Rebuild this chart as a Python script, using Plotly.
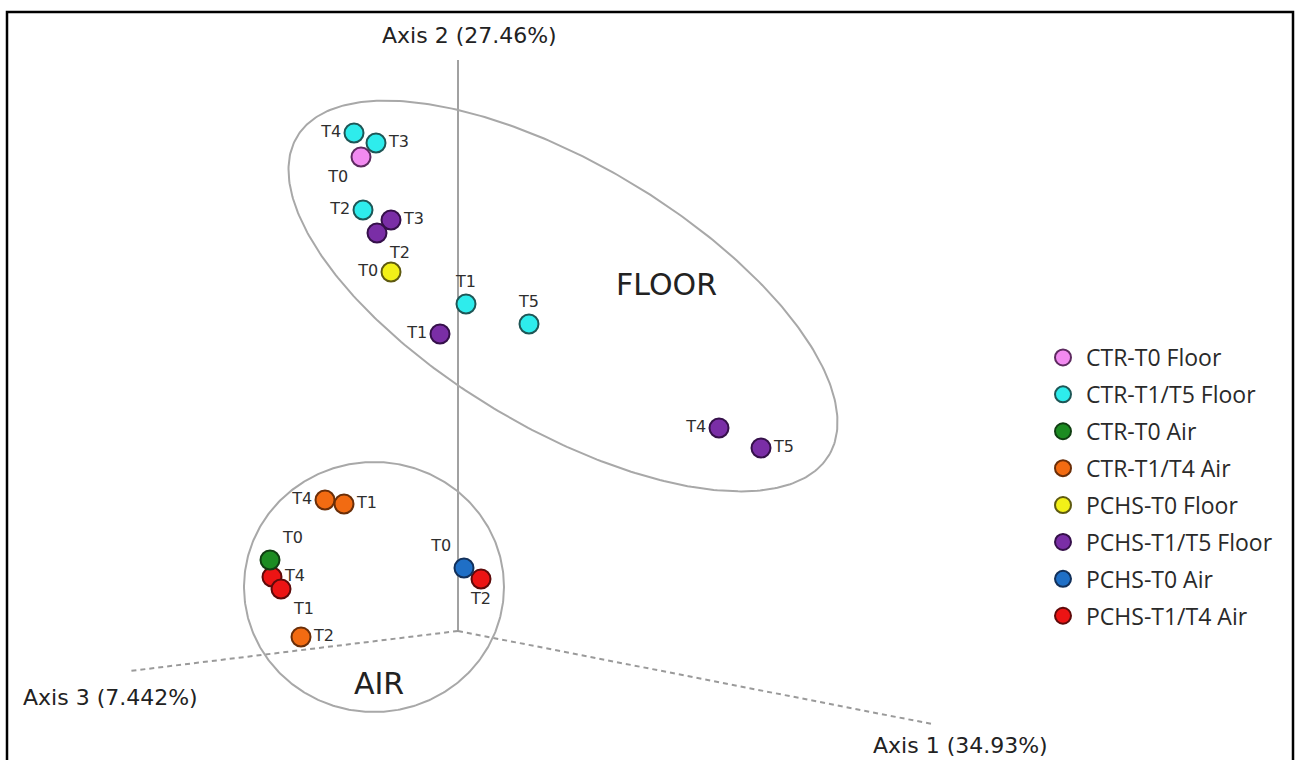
import numpy as np
import plotly.graph_objects as go

# Sample scores projected onto the drawing plane (Axis 1/2/3 ordination view)
groups = ["CTR-T0 Floor", "CTR-T1/T5 Floor", "CTR-T0 Air", "CTR-T1/T4 Air",
          "PCHS-T0 Floor", "PCHS-T1/T5 Floor", "PCHS-T0 Air", "PCHS-T1/T4 Air"]
fill_colors = ["#F28AF0", "#2EECEC", "#1C8C22", "#F26B12",
               "#F2F018", "#7A2EA6", "#1F6FC6", "#EC1414"]
edge_colors = ["#5E2A60", "#1E5656", "#103E12", "#6A2E08",
               "#5E5A10", "#35104A", "#12305A", "#5E0A0A"]

ctr_t0_floor_x = [361]
ctr_t0_floor_y = [157]
ctr_t0_floor_lab = ["T0"]

ctr_t15_floor_x = [354, 376, 363, 466, 529]
ctr_t15_floor_y = [133, 143, 210, 304, 324]
ctr_t15_floor_lab = ["T4", "T3", "T2", "T1", "T5"]

ctr_t0_air_x = [270]
ctr_t0_air_y = [560]
ctr_t0_air_lab = ["T0"]

ctr_t14_air_x = [325, 344, 301]
ctr_t14_air_y = [500, 504, 637]
ctr_t14_air_lab = ["T4", "T1", "T2"]

pchs_t0_floor_x = [391]
pchs_t0_floor_y = [272]
pchs_t0_floor_lab = ["T0"]

pchs_t15_floor_x = [391, 377, 440, 719, 761]
pchs_t15_floor_y = [220, 233, 334, 428, 448]
pchs_t15_floor_lab = ["T3", "T2", "T1", "T4", "T5"]

pchs_t0_air_x = [464]
pchs_t0_air_y = [568]
pchs_t0_air_lab = ["T0"]

pchs_t14_air_x = [272, 281, 481]
pchs_t14_air_y = [577, 589, 579]
pchs_t14_air_lab = ["T4", "T1", "T2"]

series = [
    (ctr_t0_floor_x, ctr_t0_floor_y, ctr_t0_floor_lab, ["bottom left"]),
    (ctr_t15_floor_x, ctr_t15_floor_y, ctr_t15_floor_lab,
     ["middle left", "middle right", "middle left", "top center", "top center"]),
    (ctr_t0_air_x, ctr_t0_air_y, ctr_t0_air_lab, ["top right"]),
    (ctr_t14_air_x, ctr_t14_air_y, ctr_t14_air_lab,
     ["middle left", "middle right", "middle right"]),
    (pchs_t0_floor_x, pchs_t0_floor_y, pchs_t0_floor_lab, ["middle left"]),
    (pchs_t15_floor_x, pchs_t15_floor_y, pchs_t15_floor_lab,
     ["middle right", "bottom right", "middle left", "middle left", "middle right"]),
    (pchs_t0_air_x, pchs_t0_air_y, pchs_t0_air_lab, ["top left"]),
    (pchs_t14_air_x, pchs_t14_air_y, pchs_t14_air_lab,
     ["middle right", "bottom right", "bottom center"]),
]

# Draw order (later on top); legend order kept by legendrank
draw_order = [1, 0, 5, 4, 7, 2, 3, 6]

# Ordination axes: origin and axis end points in the plane
origin = (458, 631)
axis2_top = (458, 60)
axis3_end = (130, 671)
axis1_end = (932, 724)

# Group outlines: FLOOR ellipse and AIR circle
floor_center, floor_a, floor_b, floor_angle = (563, 296), 310, 132, 30.9
air_center, air_rx, air_ry = (374, 587), 130, 125

text_font = "DejaVu Sans"
fig = go.Figure()

# axes
fig.add_trace(go.Scatter(x=[origin[0], axis2_top[0]], y=[origin[1], axis2_top[1]],
                         mode="lines", line=dict(color="#8a8a8a", width=1.6),
                         showlegend=False, hoverinfo="skip"))
for end in (axis3_end, axis1_end):
    fig.add_trace(go.Scatter(x=[origin[0], end[0]], y=[origin[1], end[1]],
                             mode="lines",
                             line=dict(color="#9a9a9a", width=2, dash="5px,4px"),
                             showlegend=False, hoverinfo="skip"))

# group outlines
t = np.linspace(0, 2 * np.pi, 400)
th = np.deg2rad(floor_angle)
ex = floor_center[0] + floor_a * np.cos(t) * np.cos(th) - floor_b * np.sin(t) * np.sin(th)
ey = floor_center[1] + floor_a * np.cos(t) * np.sin(th) + floor_b * np.sin(t) * np.cos(th)
fig.add_trace(go.Scatter(x=ex, y=ey, mode="lines", line=dict(color="#a8a8a8", width=2),
                         showlegend=False, hoverinfo="skip"))
cx = air_center[0] + air_rx * np.cos(t)
cy = air_center[1] + air_ry * np.sin(t)
fig.add_trace(go.Scatter(x=cx, y=cy, mode="lines", line=dict(color="#a8a8a8", width=2),
                         showlegend=False, hoverinfo="skip"))

# samples
for i in draw_order:
    xs, ys, labs, pos = series[i]
    fig.add_trace(go.Scatter(
        x=xs, y=ys, text=labs, textposition=pos, mode="markers+text",
        name=groups[i], legendrank=i + 1, legendgroup=groups[i],
        marker=dict(size=19, color=fill_colors[i],
                    line=dict(color=edge_colors[i], width=2)),
        textfont=dict(family=text_font, size=16, color="#2e2e2e"),
    ))

annotations = [
    dict(x=469, y=35, text="Axis 2 (27.46%)", font=dict(size=22)),
    dict(x=110, y=697, text="Axis 3 (7.442%)", font=dict(size=22)),
    dict(x=960, y=745, text="Axis 1 (34.93%)", font=dict(size=22)),
    dict(x=666, y=284, text="FLOOR", font=dict(size=30)),
    dict(x=379, y=683, text="AIR", font=dict(size=30)),
]
for a in annotations:
    a.update(xref="x", yref="y", showarrow=False)
    a["font"].update(family=text_font, color="#222222")

fig.update_layout(
    width=1298, height=760,
    margin=dict(l=0, r=0, t=0, b=0),
    paper_bgcolor="white", plot_bgcolor="white",
    xaxis=dict(range=[0, 1298], visible=False, fixedrange=True),
    yaxis=dict(range=[760, 0], visible=False, fixedrange=True),
    annotations=annotations,
    showlegend=True,
    legend=dict(x=1040 / 1298, y=1 - 336 / 760, xanchor="left", yanchor="top",
                font=dict(family="Open Sans", size=23, color="#2a2a2a"),
                traceorder="grouped", tracegroupgap=4, itemwidth=36,
                bgcolor="rgba(0,0,0,0)"),
    shapes=[dict(type="rect", xref="paper", yref="paper",
                 x0=7 / 1298, x1=1293 / 1298, y0=-0.05, y1=1 - 12 / 760,
                 line=dict(color="black", width=2.5))],
)

fig.write_html("out.html")
